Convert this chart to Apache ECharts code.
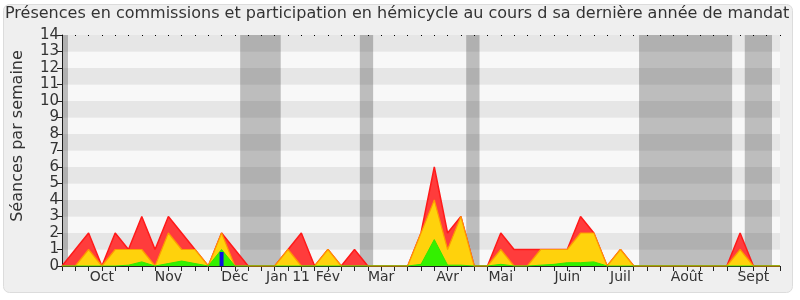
<!DOCTYPE html>
<html>
<head>
<meta charset="utf-8">
<script src="https://cdn.jsdelivr.net/npm/echarts@6/dist/echarts.min.js"></script>
<style>
html,body{margin:0;padding:0;background:#fff;}
#chart{width:800px;height:300px;}
</style>
</head>
<body>
<div id="chart"></div>
<script>
// Week index 0..54 (one point per week)
const weeks = Array.from({length: 55}, (_, i) => i);
// Month tick labels (week index where the label sits)
const monthWeeks = [3, 8, 13, 17, 20, 24, 29, 33, 38, 42, 47, 52];
const monthNames = ['Oct', 'Nov', 'Déc', 'Jan 11', 'Fév', 'Mar', 'Avr', 'Mai', 'Juin', 'Juil', 'Août', 'Sept'];
// Total presences (red)
const totalValues = [0,1,2,0,2,1,3,1,3,2,1,0,2,1,0,0,0,1,2,0,1,0,1,0,0,0,0,2,6,2,3,0,0,2,1,1,1,1,1,3,2,0,1,0,0,0,0,0,0,0,0,2,0,0,0];
// Commission presences (yellow)
const commissionValues = [0,0,1,0,1,1,1,0,2,1,1,0,2,0,0,0,0,1,0,0,1,0,0,0,0,0,0,2,4,1,3,0,0,1,0,0,1,1,1,2,2,0,1,0,0,0,0,0,0,0,0,1,0,0,0];
// Hemicycle participation (green)
const hemicycleValues = [0,0,0,0,0,0.05,0.25,0,0.15,0.3,0.15,0,1,0,0,0,0,0,0,0,0,0,0,0,0,0,0,0.1,1.6,0.05,0.05,0,0,0.1,0,0,0.05,0.1,0.2,0.2,0.25,0,0,0,0,0,0,0,0,0,0,0,0,0,0];
// Blue marker (week, value)
const blueWeeks = [12];
const blueValues = [0.85];
// Vacation periods (start week, end week)
const vacationStarts = [0, 13.4, 22.4, 30.4, 43.4, 51.35];
const vacationEnds = [0.45, 16.45, 23.4, 31.4, 50.4, 53.4];
const yTicks = [0,1,2,3,4,5,6,7,8,9,10,11,12,13,14];

const chart = echarts.init(document.getElementById('chart'), null, {renderer: 'canvas'});
const font = 'DejaVu Sans';

const pair = (vals) => vals.map((v, i) => [weeks[i], v]);
const monthMap = {};
monthWeeks.forEach((w, k) => { monthMap[w] = monthNames[k]; });

chart.setOption({
  animation: false,
  backgroundColor: '#ffffff',
  graphic: [{
    type: 'rect', z: -10, silent: true,
    shape: {x: 3.5, y: 4.5, width: 789, height: 288, r: 6},
    style: {fill: '#efefef', stroke: '#dcdcdc', lineWidth: 1}
  }, {
    type: 'text', silent: true, z: 10,
    x: 18, y: 136, rotation: Math.PI / 2,
    style: {text: 'Séances par semaine', fontFamily: font, fontSize: 16, fill: '#333',
      align: 'center', verticalAlign: 'middle'}
  }],
  title: {
    text: 'Présences en commissions et participation en hémicycle au cours d sa dernière année de mandat',
    left: 0, top: 1,
    textStyle: {fontFamily: font, fontSize: 16, fontWeight: 'normal', color: '#333'}
  },
  grid: {left: 62, right: 20, top: 35, bottom: 34, containLabel: false},
  xAxis: [{
    type: 'value', min: 0, max: 54, interval: 1,
    axisLine: {show: true, lineStyle: {color: '#222', width: 1}},
    axisTick: {show: true, length: 5, lineStyle: {color: '#222'}},
    splitLine: {show: false},
    axisLabel: {
      fontFamily: font, fontSize: 14, color: '#333', margin: 4,
      formatter: (v) => monthMap[v] || '',
      showMinLabel: true, showMaxLabel: true
    }
  }, {
    type: 'value', min: 0, max: 54, interval: 1, position: 'top',
    axisLine: {show: false},
    axisTick: {show: true, inside: true, length: 1, lineStyle: {color: '#000'}},
    axisLabel: {show: false},
    splitLine: {show: false}
  }],
  yAxis: {
    type: 'value', min: 0, max: 14, interval: 1,
    axisLine: {show: true, lineStyle: {color: '#222'}},
    axisTick: {show: true, length: 5, lineStyle: {color: '#222'}},
    axisLabel: {fontFamily: font, fontSize: 15, color: '#333', margin: 3,
      formatter: (v) => yTicks.includes(v) ? String(v) : ''},
    splitLine: {show: false},
    splitArea: {show: true, areaStyle: {color: ['#f8f8f8', '#e6e6e6']}}
  },
  series: [
    {
      type: 'line', data: [], z: 1, silent: true,
      markArea: {
        silent: true,
        itemStyle: {color: 'rgba(0,0,0,0.235)'},
        data: vacationStarts.map((s, k) => [{xAxis: s}, {xAxis: vacationEnds[k]}])
      }
    },
    {
      name: 'Total', type: 'line', z: 2, symbol: 'none', data: pair(totalValues),
      lineStyle: {color: '#ff1a1a', width: 1.5},
      areaStyle: {color: '#ff3c3c', opacity: 1}
    },
    {
      name: 'Commission', type: 'line', z: 3, symbol: 'none', data: pair(commissionValues),
      lineStyle: {color: '#ff9a00', width: 1.2},
      areaStyle: {color: '#ffd20c', opacity: 1}
    },
    {
      name: 'Hémicycle', type: 'line', z: 4, symbol: 'none', data: pair(hemicycleValues),
      lineStyle: {color: '#33e600', width: 1},
      areaStyle: {color: '#33f000', opacity: 1}
    },
    {
      name: 'Bleu', type: 'bar', z: 5, barWidth: 4,
      data: blueWeeks.map((w, k) => [w, blueValues[k]]),
      itemStyle: {color: '#1010e0'}
    }
  ]
});
</script>
</body>
</html>
